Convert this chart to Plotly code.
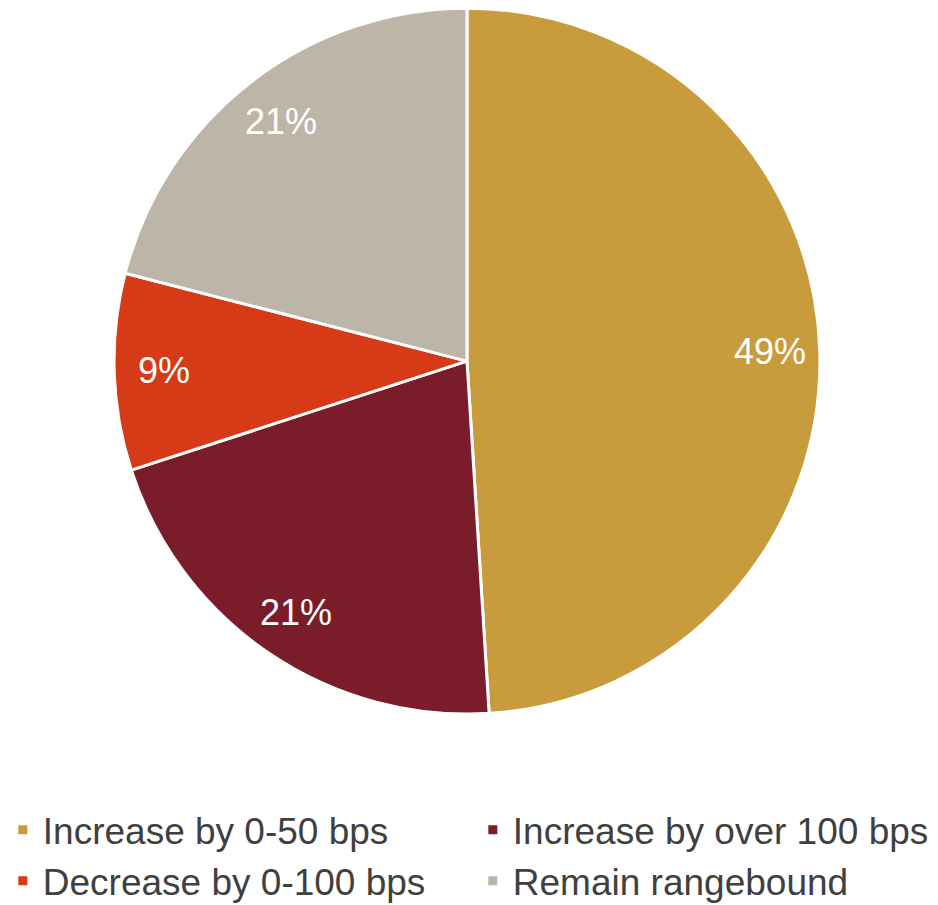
import math
import plotly.graph_objects as go

# Survey outcome shares (percent)
categories = [
    "Increase by 0-50 bps",
    "Increase by over 100 bps",
    "Decrease by 0-100 bps",
    "Remain rangebound",
]
shares = [49, 21, 9, 21]
colors = ["#C89B3C", "#7B1C2A", "#D63A16", "#BDB5A8"]

W, H = 938, 905
dom_x = [0, 0.9957]
dom_y = [0.211, 0.991]

fig = go.Figure(
    go.Pie(
        labels=categories,
        values=shares,
        sort=False,
        direction="clockwise",
        rotation=0,
        marker=dict(colors=colors, line=dict(color="white", width=3)),
        textinfo="none",
        hoverinfo="label+percent",
        domain=dict(x=dom_x, y=dom_y),
    )
)

# Percentage labels placed inside each slice, toward the rim
cx = (dom_x[0] + dom_x[1]) / 2 * W
cy = (dom_y[0] + dom_y[1]) / 2 * H
radius = min((dom_x[1] - dom_x[0]) * W, (dom_y[1] - dom_y[0]) * H) / 2
label_r = 0.86 * radius
total = sum(shares)
cum = 0
for v in shares:
    mid = (cum + v / 2) / total * 2 * math.pi  # clockwise from 12 o'clock
    cum += v
    px = cx + label_r * math.sin(mid)
    py = cy + label_r * math.cos(mid)
    fig.add_annotation(
        x=px / W, y=py / H, xref="paper", yref="paper",
        text=f"{v}%", showarrow=False,
        xanchor="center", yanchor="middle",
        font=dict(family="Liberation Sans, Arial, sans-serif", size=36, color="white"),
    )

fig.update_layout(
    width=W,
    height=H,
    margin=dict(l=0, r=0, t=0, b=0, autoexpand=False),
    paper_bgcolor="white",
    plot_bgcolor="white",
    showlegend=True,
    legend=dict(
        orientation="h",
        x=0.003,
        xanchor="left",
        y=0.117,
        yanchor="top",
        entrywidth=425,
        entrywidthmode="pixels",
        font=dict(family="Liberation Sans, Arial, sans-serif", size=37, color="#404040"),
        traceorder="normal",
        itemclick=False,
    ),
)

fig.write_html("out.html")
